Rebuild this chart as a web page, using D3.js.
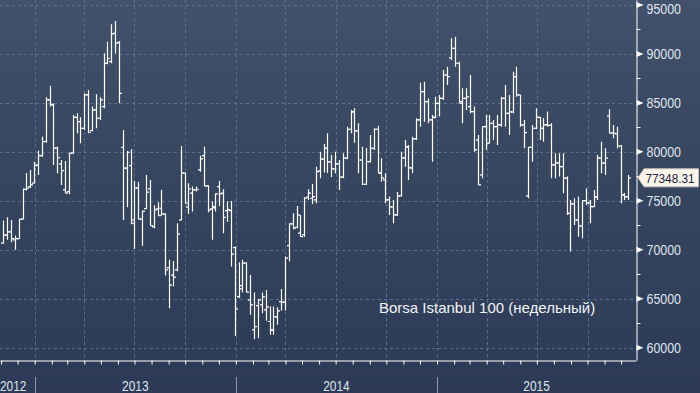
<!DOCTYPE html>
<html>
<head>
<meta charset="utf-8">
<script src="https://cdn.jsdelivr.net/npm/d3@7"></script>
<style>
  html, body { margin: 0; padding: 0; background: #2e3c58; }
  svg { display: block; }
  .axis-label { font-family: "Liberation Sans", Arial, sans-serif; font-size: 14px; fill: #dfe5ee; }
  .price-label { font-family: "Liberation Sans", Arial, sans-serif; font-size: 13.5px; fill: #17213a; }
  .note { font-family: "Liberation Sans", Arial, sans-serif; font-size: 15px; fill: #f2f4f7; }
</style>
</head>
<body>
<div id="chart"></div>
<script>
// weekly OHLC, Borsa Istanbul 100, first week starting 5 Nov 2012
const opens = [
  70670, 71490, 71820, 71010, 71140, 73120, 76180, 76420, 76800, 78660,
  79610, 81040, 85300, 84860, 80400, 78770, 76110, 75940, 79860, 83530,
  83080, 82410, 85810, 82170, 84280, 83430, 84620, 89050, 89210, 92110,
  91190, 80470, 78330, 78590, 73050, 76290, 73120, 74200, 76210, 72330,
  74170, 74240, 73660, 68180, 67400, 67940, 73050, 77820, 74350, 75780,
  76110, 78150, 79610, 76520, 74170, 74270, 76450, 75780, 73990, 74000,
  70220, 65220, 66340, 68630, 64880, 61820, 64300, 64370, 63860, 62670,
  61820, 63110, 64710, 64650, 70430, 72640, 72300, 71690, 71520, 75370,
  75260, 75090, 78050, 79250, 80370, 78970, 78260, 78770, 77410, 79350,
  82310, 84080, 82140, 79170, 76690, 79000, 80370, 82310, 77820, 77130,
  75090, 74380, 73560, 75500, 79380, 80500, 78360, 81320, 83260, 86150,
  85130, 83260, 83530, 84960, 85470, 87850, 89590, 90580, 89050, 84960,
  85470, 84620, 84110, 81220, 77640, 82570, 80880, 82920, 82570, 82750,
  85470, 83940, 84080, 87680, 85810, 82750, 75500, 80470, 82410, 83530,
  82410, 82750, 82700, 78660, 78870, 78490, 77310, 73730, 74680, 73050,
  72440, 75020, 74780, 74410, 75370, 79350, 78840, 83670, 81930, 81830,
  80600, 75600, 75400
];
const highs = [
  72980, 73320, 73050, 71450, 73150, 76250, 77820, 78150, 79000, 80120,
  81550, 85580, 86730, 84950, 80530, 79170, 79070, 79920, 83770, 83940,
  83530, 85980, 86320, 84620, 85880, 85580, 90070, 91250, 93030, 93370,
  91300, 82240, 80090, 80270, 77030, 76930, 74000, 77640, 77130, 74550,
  74850, 76110, 73700, 68970, 68860, 72710, 80600, 77880, 76800, 76450,
  76450, 79610, 80530, 76600, 74920, 75780, 77030, 76180, 74920, 74990,
  70320, 68730, 68970, 68730, 67430, 65630, 64980, 65630, 65900, 64200,
  64200, 64130, 66000, 69300, 72710, 73730, 74480, 73560, 75370, 76180,
  76720, 78490, 80020, 80810, 81900, 79680, 80020, 79170, 79860, 82570,
  84280, 84450, 82920, 80530, 80400, 81730, 82410, 82650, 79350, 77820,
  75430, 75090, 75910, 80020, 81220, 80710, 81550, 83430, 87070, 87170,
  85470, 83770, 85640, 85810, 88360, 88700, 91600, 91760, 89210, 86500,
  86500, 87850, 84620, 81730, 82570, 83770, 83770, 83260, 83770, 85640,
  86830, 85810, 88190, 88700, 85810, 83260, 80530, 82750, 84450, 83570,
  83460, 84110, 82920, 79860, 79860, 79860, 77470, 75090, 75260, 75430,
  75090, 76290, 75090, 76110, 79690, 81040, 80370, 84350, 82750, 82570,
  80710, 75800, 77640
];
const lows = [
  70640, 71010, 70770, 69990, 71140, 73120, 76050, 76310, 76800, 77640,
  79500, 80950, 84620, 78660, 77820, 76620, 75780, 75670, 79800, 81900,
  80880, 82240, 81900, 82100, 82410, 83260, 84450, 88950, 89050, 90070,
  84960, 73050, 74350, 72610, 70090, 73120, 70420, 74170, 72470, 72200,
  73490, 73490, 67360, 64030, 66240, 67800, 72980, 74750, 73660, 73900,
  75940, 77980, 76450, 73830, 71010, 73900, 74480, 71690, 72870, 68280,
  61200, 65050, 65670, 65670, 63350, 60870, 60970, 63520, 62740, 61310,
  61310, 62330, 63790, 63790, 68790, 72100, 72200, 71340, 71340, 75090,
  74680, 74750, 77310, 77880, 77850, 77440, 77820, 76110, 77310, 79250,
  81900, 80940, 77820, 76620, 76620, 78900, 80200, 77820, 76960, 74750,
  73560, 72710, 73460, 75430, 78490, 77130, 77820, 81220, 82570, 83080,
  82920, 78990, 83430, 83600, 85300, 86830, 89380, 88700, 84960, 82920,
  84280, 83940, 80020, 76620, 77310, 80200, 80880, 81220, 80710, 82570,
  82570, 81730, 83940, 85640, 82570, 80370, 75260, 79000, 82300, 81220,
  81040, 82570, 77310, 77310, 77470, 75780, 73560, 69810, 72540, 71340,
  71180, 74580, 72710, 74400, 75090, 77820, 77640, 81900, 81390, 80370,
  74750, 75090, 75090
];
const closes = [
  71490, 71820, 71140, 71140, 73120, 76180, 76290, 76620, 78590, 79610,
  81040, 85300, 84790, 80370, 79410, 78080, 75780, 79860, 83530, 83080,
  82410, 85810, 82000, 84280, 83430, 85300, 89050, 89560, 92040, 91090,
  85980, 78330, 79960, 72710, 76290, 73120, 73940, 75880, 72470, 74070,
  73490, 73630, 67940, 66380, 67200, 71590, 77820, 74750, 76210, 76110,
  76180, 79280, 76520, 74070, 74410, 75700, 75700, 73320, 74100, 69550,
  63930, 66000, 68630, 65670, 64370, 62150, 64880, 65190, 64170, 61820,
  63180, 63760, 64650, 69140, 72640, 72200, 73560, 71340, 75260, 75780,
  75430, 77980, 79250, 80370, 78970, 78260, 78770, 77410, 79350, 82310,
  84080, 82140, 79170, 76690, 79000, 80370, 82310, 77820, 77340, 75090,
  74380, 73560, 75500, 79380, 80500, 78360, 81320, 83260, 86150, 85130,
  83260, 83530, 84960, 85470, 87850, 87680, 90580, 89050, 85130, 85470,
  85610, 84110, 80200, 76620, 82570, 80880, 82920, 82570, 82750, 85470,
  83940, 84080, 87680, 85810, 82750, 81960, 80470, 82410, 83530, 82410,
  82750, 82700, 78660, 78870, 78490, 77310, 73730, 74680, 73050, 72440,
  75020, 74780, 74410, 75370, 79350, 78840, 79350, 81900, 81900, 80600,
  75600, 75400, 77348.31
];

const yTicks = [60000, 65000, 70000, 75000, 80000, 85000, 90000, 95000];
const yMinorTicks = [62500, 67500, 72500, 77500, 82500, 87500, 92500];
const yDomain = [58740, 95510];
const xDomain = [new Date(2012, 9, 30), new Date(2015, 11, 28)];
const firstWeek = new Date(2012, 10, 5);
const lastWeek = new Date(2015, 11, 14);
const lastPriceLabel = '77348.31';
const noteText = 'Borsa Istanbul 100 (недельный)';

class OhlcChart {

  constructor(_config, _data) {
    this.config = {
      parentElement: _config.parentElement,
      containerWidth: 700,
      containerHeight: 393,
      plotRight: 636,
      plotBottom: 360
    };
    this.data = _data;
    this.initVis();
  }

  initVis() {
    let vis = this;
    const W = vis.config.plotRight, H = vis.config.plotBottom;

    vis.xScale = d3.scaleTime().domain(xDomain).range([0, W]);
    vis.yScale = d3.scaleLinear().domain(yDomain).range([H, 0]);

    vis.svg = d3.select(vis.config.parentElement).append('svg')
        .attr('width', vis.config.containerWidth)
        .attr('height', vis.config.containerHeight);

    // background gradient, lighter at the top
    const grad = vis.svg.append('defs').append('linearGradient')
        .attr('id', 'bg')
        .attr('x1', 0).attr('y1', 0).attr('x2', 0).attr('y2', 1);
    grad.append('stop').attr('offset', '0%').attr('stop-color', '#42516c');
    grad.append('stop').attr('offset', '40%').attr('stop-color', '#374760');
    grad.append('stop').attr('offset', '100%').attr('stop-color', '#2c3a57');

    vis.svg.append('rect')
        .attr('width', vis.config.containerWidth)
        .attr('height', vis.config.containerHeight)
        .attr('fill', 'url(#bg)');

    // dashed grid
    const quarters = d3.timeMonth.every(3).range(xDomain[0], xDomain[1]);
    vis.svg.append('g').selectAll('line.hgrid')
        .data(yTicks)
      .join('line')
        .attr('x1', 0).attr('x2', W)
        .attr('y1', d => Math.round(vis.yScale(d)) + 0.5)
        .attr('y2', d => Math.round(vis.yScale(d)) + 0.5)
        .attr('stroke', '#55718e')
        .attr('stroke-dasharray', '3,3');

    vis.svg.append('g').selectAll('line.vgrid')
        .data(quarters)
      .join('line')
        .attr('x1', d => Math.round(vis.xScale(d)) + 0.5)
        .attr('x2', d => Math.round(vis.xScale(d)) + 0.5)
        .attr('y1', 0).attr('y2', H)
        .attr('stroke', '#55718e')
        .attr('stroke-dasharray', '3,3');

    // x axis: monthly ticks
    const months = d3.timeMonth.range(xDomain[0], xDomain[1]);
    vis.xAxis = d3.axisBottom(vis.xScale)
        .tickValues(months)
        .tickSize(4)
        .tickSizeOuter(0)
        .tickFormat('');
    vis.xAxisG = vis.svg.append('g')
        .attr('transform', `translate(0,${H + 0.5})`)
        .call(vis.xAxis);
    vis.xAxisG.selectAll('path, line').attr('stroke', '#ffffff');

    // year separators and labels
    const yearStarts = d3.timeYear.range(xDomain[0], xDomain[1]);
    vis.svg.append('g').selectAll('line')
        .data(yearStarts)
      .join('line')
        .attr('x1', d => Math.round(vis.xScale(d)) + 0.5)
        .attr('x2', d => Math.round(vis.xScale(d)) + 0.5)
        .attr('y1', 377).attr('y2', 393)
        .attr('stroke', '#8d97a8');

    const years = d3.timeYear.range(d3.timeYear.floor(xDomain[0]), xDomain[1]);
    vis.svg.append('g').selectAll('text')
        .data(years)
      .join('text')
        .attr('class', 'axis-label')
        .attr('y', 390.5)
        .attr('x', d => {
          const a = Math.max(vis.xScale(d), 0);
          const b = Math.min(vis.xScale(d3.timeYear.offset(d, 1)), W);
          return d < xDomain[0] ? 0 : (a + b) / 2;
        })
        .attr('text-anchor', d => d < xDomain[0] ? 'start' : 'middle')
        .attr('textLength', 26.5)
        .attr('lengthAdjust', 'spacingAndGlyphs')
        .text(d => d.getFullYear());

    // y axis on the right
    vis.yAxis = d3.axisRight(vis.yScale)
        .tickValues(yTicks)
        .tickSize(0)
        .tickSizeOuter(0)
        .tickPadding(10)
        .tickFormat(d3.format('d'));
    vis.yAxisG = vis.svg.append('g')
        .attr('transform', `translate(${W + 0.5},0)`)
        .call(vis.yAxis);
    vis.yAxisG.select('.domain').attr('stroke', '#ffffff');
    // keep the top label inside the picture
    vis.yAxisG.selectAll('text')
        .attr('class', 'axis-label')
        .attr('fill', null)
        .attr('y', d => Math.max(vis.yScale(d), 9.5) - vis.yScale(d))
        .attr('textLength', 34.5)
        .attr('lengthAdjust', 'spacingAndGlyphs');

    vis.yAxisG.selectAll('.marker')
        .data(yTicks)
      .join('path')
        .attr('class', 'marker')
        .attr('d', d => {
          const y = vis.yScale(d);
          return `M0,${y - 3}L7,${y}L0,${y + 3}Z`;
        })
        .attr('fill', '#ffffff');

    vis.yAxisG.selectAll('.minor')
        .data(yMinorTicks)
      .join('line')
        .attr('class', 'minor')
        .attr('x1', 0).attr('x2', 4)
        .attr('y1', d => Math.round(vis.yScale(d)) + 0.5)
        .attr('y2', d => Math.round(vis.yScale(d)) + 0.5)
        .attr('stroke', '#ffffff');

    vis.chart = vis.svg.append('g');

    vis.svg.append('text')
        .attr('class', 'note')
        .attr('x', 379)
        .attr('y', 313)
        .text(noteText);

    vis.renderVis();
  }

  renderVis() {
    let vis = this;
    const tick = 2.5;

    vis.chart.selectAll('.bar')
        .data(vis.data)
      .join('path')
        .attr('class', 'bar')
        .attr('d', d => {
          const x = Math.round(vis.xScale(d.date)) + 0.5;
          return `M${x},${vis.yScale(d.high)}V${vis.yScale(d.low)}` +
                 `M${x - tick},${vis.yScale(d.open)}H${x}` +
                 `M${x},${vis.yScale(d.close)}H${x + tick}`;
        })
        .attr('fill', 'none')
        .attr('stroke', '#ffffff')
        .attr('stroke-width', 1.2);

    // last price flag
    const last = vis.data[vis.data.length - 1];
    const ly = vis.yScale(last.close);
    const x0 = vis.config.plotRight + 2;
    vis.svg.append('path')
        .attr('d', `M${x0},${ly}L${x0 + 6},${ly - 9}H698.5V${ly + 9}H${x0 + 6}Z`)
        .attr('fill', '#fcf5ec')
        .attr('stroke', '#c9c2b8');
    vis.svg.append('text')
        .attr('class', 'price-label')
        .attr('x', x0 + 7.5)
        .attr('y', ly)
        .attr('dy', '0.35em')
        .attr('textLength', 49)
        .attr('lengthAdjust', 'spacingAndGlyphs')
        .text(lastPriceLabel);
  }
}

const weeks = d3.timeMonday.range(firstWeek, d3.timeDay.offset(lastWeek, 1));
const data = weeks.map((w, i) => ({
  date: w, open: opens[i], high: highs[i], low: lows[i], close: closes[i]
}));

new OhlcChart({ parentElement: '#chart' }, data);
</script>
</body>
</html>
